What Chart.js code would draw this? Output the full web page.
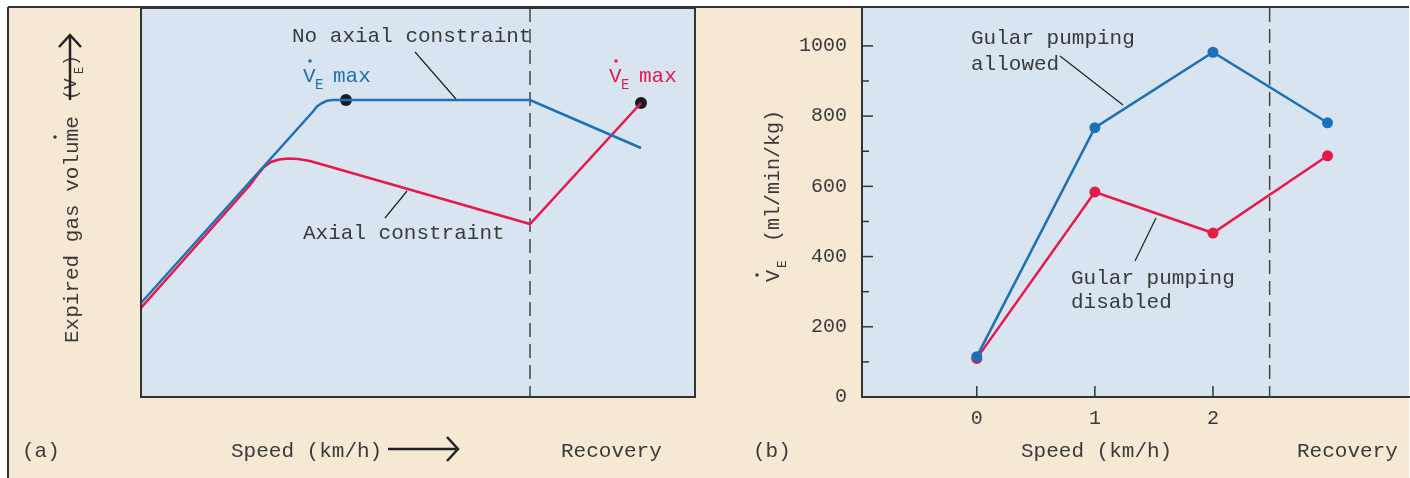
<!DOCTYPE html>
<html>
<head>
<meta charset="utf-8">
<script src="https://cdn.jsdelivr.net/npm/chart.js@4.4.1/dist/chart.umd.min.js"></script>
<style>
html, body { margin: 0; padding: 0; background: #fff; }
#wrap { position: relative; width: 1410px; height: 478px; overflow: hidden; }
canvas { position: absolute; top: 0; }
#chartA { left: 0; }
#chartB { left: 697px; }
</style>
</head>
<body>
<div id="wrap">
  <canvas id="chartA" width="697" height="478"></canvas>
  <canvas id="chartB" width="713" height="478"></canvas>
</div>
<script>
// panel (a): schematic curves, arbitrary units (x 0-100, y 0-100)
const noAxialX = [0, 31.05, 31.77, 32.67, 33.57, 34.66, 70.22, 90.25];
const noAxialY = [24.16, 73.39, 74.68, 75.58, 76.14, 76.35, 76.35, 64.01];
const axialX = [0, 19.68, 20.94, 22.2, 23.47, 24.91, 26.53, 28.34, 30.51, 70.22, 90.25];
const axialY = [22.88, 54.5, 56.94, 59.13, 60.41, 61.05, 61.31, 61.18, 60.67, 44.47, 75.58];
const maxPointX = [37.0, 90.25];
const maxPointY = [76.35, 75.58];
const recoveryA = 70.22;

// panel (b): minute ventilation, ml/min/kg
const speedX = [0, 1, 2, 2.97];
const speedTicks = ['0', '1', '2'];
const gularAllowed = [115, 767, 982, 781];
const gularDisabled = [110, 584, 467, 687];
const yTickValues = [0, 100, 200, 300, 400, 500, 600, 700, 800, 900, 1000];
const recoveryB = 2.48;

const FONT_FAMILY = "'Liberation Mono', 'Courier New', monospace";
const TEXT = '#3a3a3a';
const BLUE = '#1a71b8';
const RED = '#e6194b';
const BEIGE = '#f5e9d4';
const PLOT_BG = '#d9e4f1';
const AXIS = '#333333';
const OFFSET_B = 697;

Chart.defaults.font.family = FONT_FAMILY;

function text(ctx, s, x, y, size, color, align) {
  ctx.font = size + 'px ' + FONT_FAMILY;
  ctx.fillStyle = color;
  ctx.textAlign = align || 'left';
  ctx.textBaseline = 'alphabetic';
  ctx.fillText(s, x, y);
}

function dot(ctx, x, y, r, color) {
  ctx.fillStyle = color;
  ctx.beginPath();
  ctx.arc(x, y, r, 0, Math.PI * 2);
  ctx.fill();
}

function line(ctx, x1, y1, x2, y2, w, color) {
  ctx.strokeStyle = color;
  ctx.lineWidth = w;
  ctx.beginPath();
  ctx.moveTo(x1, y1);
  ctx.lineTo(x2, y2);
  ctx.stroke();
}

// V with dot over it and subscript E, then "max"
function vmax(ctx, x, base, color) {
  text(ctx, 'V', x, base, 21, color);
  dot(ctx, x + 7, base - 21, 1.8, color);
  text(ctx, 'E', x + 12, base + 7, 14, color);
  text(ctx, 'max', x + 30, base, 21, color);
}

function dashed(ctx, x, top, bottom) {
  ctx.save();
  ctx.setLineDash([14, 7]);
  line(ctx, x, top, x, bottom, 1.5, '#444');
  ctx.restore();
}

const panelA = {
  id: 'panelA',
  beforeDraw(chart) {
    const {ctx, chartArea: a, width, height} = chart;
    ctx.save();
    ctx.fillStyle = BEIGE;
    ctx.fillRect(0, 0, width, height);
    ctx.fillStyle = '#fff';
    ctx.fillRect(0, 0, width, 7);
    ctx.fillRect(0, 0, 8, height);
    ctx.fillStyle = PLOT_BG;
    ctx.fillRect(a.left, a.top, a.right - a.left, a.bottom - a.top);
    ctx.restore();
  },
  beforeDatasetsDraw(chart) {
    const {ctx, chartArea: a} = chart;
    dashed(ctx, chart.scales.x.getPixelForValue(recoveryA), a.top, a.bottom);
  },
  afterDraw(chart) {
    const {ctx, chartArea: a, width, height} = chart;
    ctx.save();
    // frame
    line(ctx, 8, 7, width, 7, 2, AXIS);
    line(ctx, 8, 7, 8, height, 2, AXIS);
    ctx.strokeStyle = AXIS;
    ctx.lineWidth = 2;
    ctx.strokeRect(a.left, a.top, a.right - a.left, a.bottom - a.top);

    // annotations
    text(ctx, 'No axial constraint', 292, 42, 21, TEXT);
    line(ctx, 415, 52, 456, 99, 1.2, '#222');
    text(ctx, 'Axial constraint', 303, 239, 21, TEXT);
    line(ctx, 385, 218, 407, 191, 1.2, '#222');
    vmax(ctx, 303, 82, BLUE);
    vmax(ctx, 609, 82, RED);

    // y title
    ctx.save();
    ctx.translate(78, 343);
    ctx.rotate(-Math.PI / 2);
    text(ctx, 'Expired gas volume', 0, 0, 21, TEXT);
    text(ctx, '(V', 243, -2, 18, TEXT);
    text(ctx, 'E', 269, 5, 12, TEXT);
    text(ctx, ')', 277, -2, 18, TEXT);
    ctx.restore();
    dot(ctx, 55, 137, 1.8, TEXT);
    line(ctx, 70, 100, 70, 36, 2.5, '#222');
    ctx.strokeStyle = '#222';
    ctx.lineWidth = 2.5;
    ctx.beginPath();
    ctx.moveTo(59, 47);
    ctx.lineTo(70, 35);
    ctx.lineTo(81, 47);
    ctx.stroke();

    // x labels
    text(ctx, '(a)', 22, 457, 21, TEXT);
    text(ctx, 'Speed (km/h)', 231, 457, 21, TEXT);
    line(ctx, 388, 449, 456, 449, 2.5, '#222');
    ctx.beginPath();
    ctx.moveTo(447, 437);
    ctx.lineTo(458, 449);
    ctx.lineTo(447, 461);
    ctx.stroke();
    text(ctx, 'Recovery', 561, 457, 21, TEXT);
    ctx.restore();
  }
};

const panelB = {
  id: 'panelB',
  beforeDraw(chart) {
    const {ctx, chartArea: a, width, height} = chart;
    ctx.save();
    ctx.fillStyle = BEIGE;
    ctx.fillRect(0, 0, width, height);
    ctx.fillStyle = '#fff';
    ctx.fillRect(0, 0, width, 7);
    ctx.fillRect(width - 1, 0, 1, height);
    ctx.fillStyle = PLOT_BG;
    ctx.fillRect(a.left, a.top, a.right - a.left, a.bottom - a.top);
    ctx.restore();
  },
  beforeDatasetsDraw(chart) {
    const {ctx, chartArea: a, scales} = chart;
    dashed(ctx, scales.x.getPixelForValue(recoveryB), a.top, a.bottom);
    // inward tick marks
    ctx.save();
    scales.y.ticks.forEach(t => {
      const py = scales.y.getPixelForValue(t.value);
      const len = t.value % 200 === 0 ? 11 : 7;
      line(ctx, a.left, py, a.left + len, py, 1.5, AXIS);
    });
    scales.x.ticks.forEach(t => {
      const px = scales.x.getPixelForValue(t.value);
      line(ctx, px, a.bottom, px, a.bottom - 11, 1.5, AXIS);
    });
    ctx.restore();
  },
  afterDraw(chart) {
    const {ctx, width} = chart;
    ctx.save();
    line(ctx, 0, 7, width - 1, 7, 2, AXIS);
    ctx.translate(-OFFSET_B, 0);

    text(ctx, 'Gular pumping', 971, 44, 21, TEXT);
    text(ctx, 'allowed', 971, 70, 21, TEXT);
    line(ctx, 1060, 56, 1123, 105, 1.2, '#222');
    text(ctx, 'Gular pumping', 1071, 284, 21, TEXT);
    text(ctx, 'disabled', 1071, 308, 21, TEXT);
    line(ctx, 1135, 261, 1156, 218, 1.2, '#222');

    // y title
    ctx.save();
    ctx.translate(779, 282);
    ctx.rotate(-Math.PI / 2);
    text(ctx, 'V', 0, 0, 20, TEXT);
    dot(ctx, 7, -22, 1.8, TEXT);
    text(ctx, 'E', 14, 7, 13, TEXT);
    text(ctx, '(ml/min/kg)', 40, 0, 20, TEXT);
    ctx.restore();

    text(ctx, '(b)', 753, 457, 21, TEXT);
    text(ctx, 'Speed (km/h)', 1021, 457, 21, TEXT);
    text(ctx, 'Recovery', 1297, 457, 21, TEXT);
    ctx.restore();
  }
};

new Chart(document.getElementById('chartA'), {
  type: 'line',
  data: {
    datasets: [
      {
        label: 'No axial constraint',
        data: noAxialX.map((x, i) => ({x: x, y: noAxialY[i]})),
        borderColor: BLUE,
        borderWidth: 2.5,
        pointRadius: 0,
        tension: 0
      },
      {
        label: 'Axial constraint',
        data: axialX.map((x, i) => ({x: x, y: axialY[i]})),
        borderColor: RED,
        borderWidth: 2.5,
        pointRadius: 0,
        tension: 0
      },
      {
        label: 'max',
        data: maxPointX.map((x, i) => ({x: x, y: maxPointY[i]})),
        showLine: false,
        pointRadius: 6,
        pointBorderWidth: 0,
        pointBackgroundColor: '#1c1c1c'
      }
    ]
  },
  options: {
    animation: false,
    responsive: false,
    layout: { autoPadding: false, padding: { left: 141, right: 2, top: 8, bottom: 81 } },
    plugins: { legend: { display: false }, tooltip: { enabled: false } },
    scales: {
      x: { type: 'linear', min: 0, max: 100, display: false },
      y: { type: 'linear', min: 0, max: 100, display: false }
    }
  },
  plugins: [panelA]
});

new Chart(document.getElementById('chartB'), {
  type: 'line',
  data: {
    datasets: [
      {
        label: 'Gular pumping allowed',
        data: speedX.map((x, i) => ({x: x, y: gularAllowed[i]})),
        borderColor: BLUE,
        backgroundColor: BLUE,
        borderWidth: 2.5,
        pointRadius: 5.5,
        pointBorderWidth: 0,
        pointBackgroundColor: BLUE,
        tension: 0
      },
      {
        label: 'Gular pumping disabled',
        data: speedX.map((x, i) => ({x: x, y: gularDisabled[i]})),
        borderColor: RED,
        backgroundColor: RED,
        borderWidth: 2.5,
        pointRadius: 5.5,
        pointBorderWidth: 0,
        pointBackgroundColor: RED,
        tension: 0
      }
    ]
  },
  options: {
    animation: false,
    responsive: false,
    layout: { autoPadding: false, padding: { left: 0, right: 1, top: 8, bottom: 0 } },
    plugins: { legend: { display: false }, tooltip: { enabled: false } },
    scales: {
      x: {
        type: 'linear',
        min: -0.972,
        max: 3.66,
        grid: { display: false, drawTicks: false },
        border: { display: true, color: AXIS, width: 2 },
        afterBuildTicks: s => { s.ticks = speedTicks.map((t, i) => ({value: i})); },
        ticks: {
          callback: (v, i) => speedTicks[i],
          font: { size: 20 },
          color: TEXT,
          padding: 10,
          maxRotation: 0,
          autoSkip: false
        },
        afterFit: s => { s.height = 81; s.paddingLeft = 0; s.paddingRight = 0; }
      },
      y: {
        type: 'linear',
        min: 0,
        max: 1108,
        grid: { display: false, drawTicks: false },
        border: { display: true, color: AXIS, width: 2 },
        afterBuildTicks: s => { s.ticks = yTickValues.map(v => ({value: v})); },
        ticks: {
          callback: v => (v % 200 === 0 ? String(v) : ''),
          font: { size: 20 },
          color: TEXT,
          padding: 15,
          autoSkip: false
        },
        afterFit: s => { s.width = 165; s.paddingTop = 0; s.paddingBottom = 0; }
      }
    }
  },
  plugins: [panelB]
});
</script>
</body>
</html>
